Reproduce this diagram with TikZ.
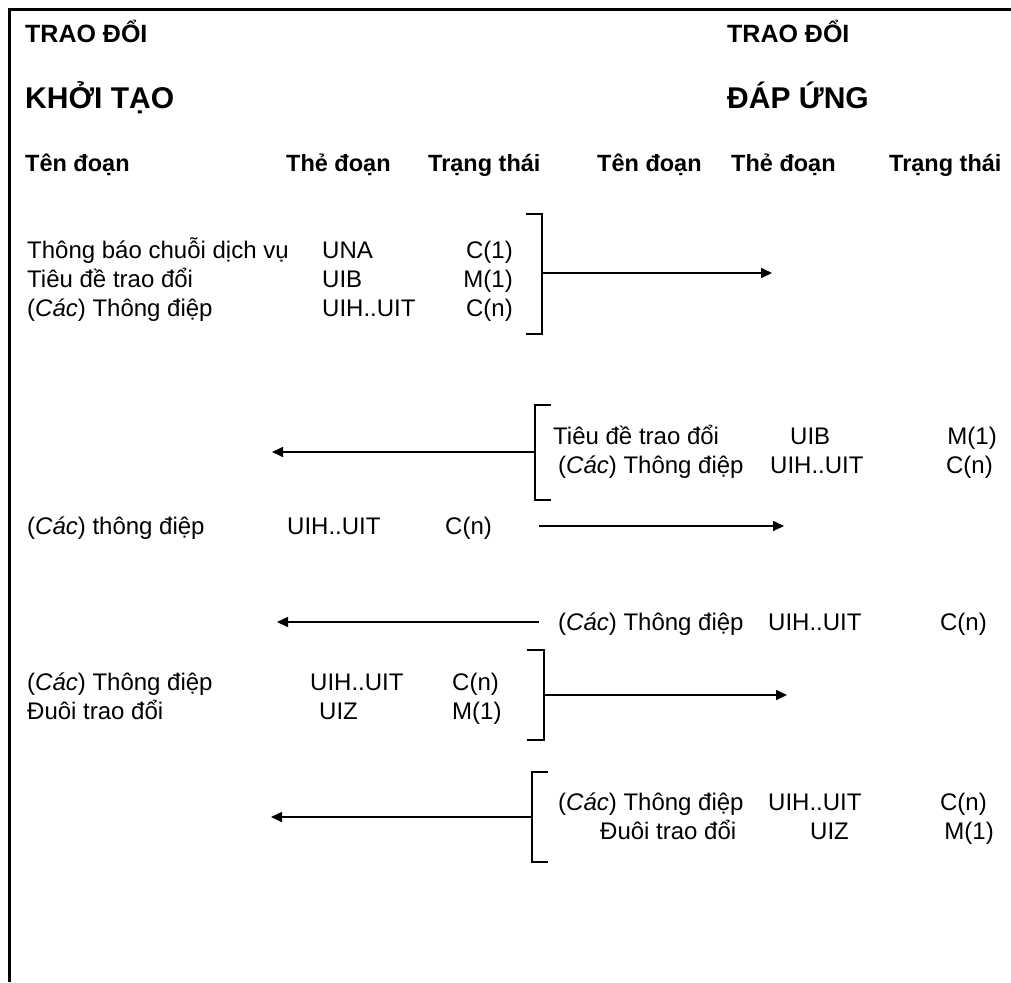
\documentclass[tikz,border=0pt]{standalone}
\usepackage{fontspec}
\setmainfont{Liberation Sans}
\usetikzlibrary{arrows.meta,positioning}

\begin{document}
\begin{tikzpicture}[x=1pt,y=-1pt,
    txt/.style={anchor=base west,inner sep=0pt,font=\fontsize{24}{29}\selectfont},
    txtr/.style={txt,anchor=base east},
    hdr/.style={anchor=base west,inner sep=0pt,font=\fontsize{23.5}{27}\selectfont\bfseries},
    ttl/.style={hdr,font=\fontsize{25}{30}\selectfont\bfseries},
    big/.style={hdr,font=\fontsize{30}{36}\selectfont\bfseries},
    msg/.style={line width=1.6pt,-{Triangle[length=11pt,width=10pt]}},
    brk/.style={line width=1.6pt}]
    \useasboundingbox (0,0) rectangle (1011,982);

    % Khung
    \draw[line width=3pt] (9.5,982) -- (9.5,9.5) -- (1011,9.5);

    % Tiêu đề
    \node[ttl] (trao1) at (25,42) {TRAO ĐỔI};
    \node[ttl] (trao2) at (727,42) {TRAO ĐỔI};
    \node[big] (khoi) at (25,108) {KHỞI TẠO};
    \node[big] (dap) at (727,108) {ĐÁP ỨNG};

    % Hàng tiêu đề cột
    \node[hdr] (ten1) at (25,171) {Tên đoạn};
    \node[hdr] (the1) at (286,171) {Thẻ đoạn};
    \node[hdr] (tt1) at (428,171) {Trạng thái};
    \node[hdr] (ten2) at (597,171) {Tên đoạn};
    \node[hdr] (the2) at (731,171) {Thẻ đoạn};
    \node[hdr] (tt2) at (889,171) {Trạng thái};

    % Khối 1: khởi tạo gửi đi
    \node[txt] (una) at (27,258) {Thông báo chuỗi dịch vụ};
    \node[txt] (uib) at (27,287) {Tiêu đề trao đổi};
    \node[txt] (uih) at (27,316) {(\textit{Các}) Thông điệp};
    \node[txt] (unat) at (322,258) {UNA};
    \node[txt] (uibt) at (322,287) {UIB};
    \node[txt] (uiht) at (322,316) {UIH..UIT};
    \node[txtr] (unas) at (513,258) {C(1)};
    \node[txtr] (uibs) at (513,287) {M(1)};
    \node[txtr] (uihs) at (513,316) {C(n)};
    \coordinate (b1a) at (526,214);
    \coordinate (b1t) at (542,214);
    \coordinate (b1b) at (542,334);
    \coordinate (b1c) at (526,334);
    \coordinate (b1m) at (542,273);
    \coordinate (a1) at (772,273);
    \draw[brk] (b1a) -- (b1t) -- (b1b) -- (b1c);
    \draw[msg] (b1m) -- (a1);

    % Khối 2: đáp ứng trả về
    \node[txt] (uib2) at (553,444) {Tiêu đề trao đổi};
    \node[txt] (uih2) at (558,473) {(\textit{Các}) Thông điệp};
    \node[txt] (uib2t) at (790,444) {UIB};
    \node[txt] (uih2t) at (770,473) {UIH..UIT};
    \node[txtr] (uib2s) at (997,444) {M(1)};
    \node[txtr] (uih2s) at (993,473) {C(n)};
    \coordinate (b2a) at (551,405);
    \coordinate (b2t) at (535,405);
    \coordinate (b2b) at (535,500);
    \coordinate (b2c) at (551,500);
    \coordinate (b2m) at (535,452);
    \coordinate (a2) at (272,452);
    \draw[brk] (b2a) -- (b2t) -- (b2b) -- (b2c);
    \draw[msg] (b2m) -- (a2);

    % Khối 3
    \node[txt] (uih3) at (27,534) {(\textit{Các}) thông điệp};
    \node[txt] (uih3t) at (287,534) {UIH..UIT};
    \node[txt] (uih3s) at (445,534) {C(n)};
    \coordinate (a3s) at (539,526);
    \coordinate (a3) at (784,526);
    \draw[msg] (a3s) -- (a3);

    % Khối 4
    \node[txt] (uih4) at (558,630) {(\textit{Các}) Thông điệp};
    \node[txt] (uih4t) at (768,630) {UIH..UIT};
    \node[txtr] (uih4s) at (987,630) {C(n)};
    \coordinate (a4s) at (539,622);
    \coordinate (a4) at (277,622);
    \draw[msg] (a4s) -- (a4);

    % Khối 5
    \node[txt] (uih5) at (27,690) {(\textit{Các}) Thông điệp};
    \node[txt] (uiz5) at (27,719) {Đuôi trao đổi};
    \node[txt] (uih5t) at (310,690) {UIH..UIT};
    \node[txt] (uiz5t) at (319,719) {UIZ};
    \node[txt] (uih5s) at (452,690) {C(n)};
    \node[txt] (uiz5s) at (452,719) {M(1)};
    \coordinate (b5a) at (527,650);
    \coordinate (b5t) at (544,650);
    \coordinate (b5b) at (544,740);
    \coordinate (b5c) at (527,740);
    \coordinate (b5m) at (544,695);
    \coordinate (a5) at (787,695);
    \draw[brk] (b5a) -- (b5t) -- (b5b) -- (b5c);
    \draw[msg] (b5m) -- (a5);

    % Khối 6
    \node[txt] (uih6) at (558,810) {(\textit{Các}) Thông điệp};
    \node[txt] (uiz6) at (600,839) {Đuôi trao đổi};
    \node[txt] (uih6t) at (768,810) {UIH..UIT};
    \node[txt] (uiz6t) at (810,839) {UIZ};
    \node[txtr] (uih6s) at (987,810) {C(n)};
    \node[txtr] (uiz6s) at (994,839) {M(1)};
    \coordinate (b6a) at (548,772);
    \coordinate (b6t) at (532,772);
    \coordinate (b6b) at (532,862);
    \coordinate (b6c) at (548,862);
    \coordinate (b6m) at (532,817);
    \coordinate (a6) at (271,817);
    \draw[brk] (b6a) -- (b6t) -- (b6b) -- (b6c);
    \draw[msg] (b6m) -- (a6);
\end{tikzpicture}
\end{document}
